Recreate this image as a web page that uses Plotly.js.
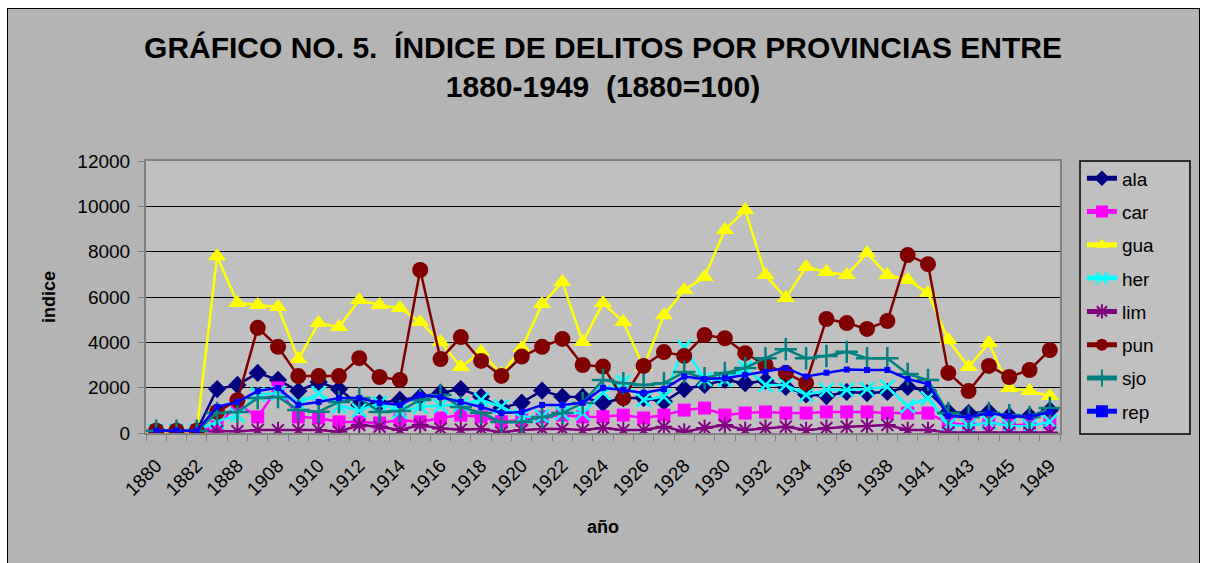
<!DOCTYPE html>
<html>
<head>
<meta charset="utf-8">
<script src="https://cdn.plot.ly/plotly-3.0.1.min.js"></script>
<style>
  html, body { margin: 0; padding: 0; background: #ffffff; overflow: hidden; }
  #frame { position: absolute; left: 7px; top: 8px; width: 1191px; height: 600px; background: #b4b4b4; border: 1px solid #000; }
  #chart { position: absolute; left: 0; top: 0; width: 1206px; height: 563px; }
</style>
</head>
<body>
<div id="frame"></div>
<div id="chart"></div>
<script>
const categories = ['1880','1881','1882','1885','1888','1889','1908','1909','1910','1911','1912','1913','1914','1915','1916','1917','1918','1919','1920','1921','1922','1923','1924','1925','1926','1927','1928','1929','1930','1931','1932','1933','1934','1935','1936','1937','1938','1940','1941','1942','1943','1944','1945','1947','1949'];
const tickLabels = categories.map((c, i) => (i % 2 === 0 ? c : ''));

const ala = [100,100,100,1940,2120,2650,2340,1850,2250,1940, 1240,1320,1460,1590,1770,1940,1600,1100,1340,1870, 1600,1590,1320,1540,1540,1380,1940,2120,2340,2200, 2300,2030,1700,1630,1810,1760,1810,2030,1850,930, 880,930,750,750,1000];
const car = [100,100,100,270,1300,710,1990,710,660,490, 490,440,570,490,660,790,710,490,570,710, 790,710,720,790,660,790,1010,1100,790,880, 930,880,880,930,930,930,880,880,880,440, 350,440,350,350,440];
const gua = [100,100,100,7800,5730,5650,5560,3260,4850,4680, 5870,5650,5510,4900,4020,2910,3570,2600,3750,5690, 6660,4020,5730,4900,2910,5200,6310,6880,8960,9840, 6970,5960,7320,7100,6970,7940,6970,6750,6180,4100, 2910,3970,1985,1850,1630];
const her = [100,100,100,500,790,1700,1750,1300,1750,1200, 1000,1320,940,1160,1190,1250,1460,1160,720,720, 880,880,1780,2250,1460,1600,3800,2380,2340,2870, 2120,2120,1680,1900,1900,1940,2030,1190,1540,350, 300,480,300,300,500];
const lim = [100,100,100,80,80,130,130,130,130,60, 350,280,130,350,200,150,180,30,130,180, 180,130,220,130,130,280,60,220,350,130, 220,280,130,220,280,310,350,130,130,20, 20,20,20,20,20];
const pun = [100,100,100,930,1450,4640,3800,2510,2510,2510, 3300,2470,2340,7190,3260,4230,3180,2520,3370,3800, 4150,3000,2930,1540,2960,3570,3400,4320,4180,3520, 3000,2650,2200,5030,4850,4590,4940,7850,7450,2650, 1850,2960,2470,2780,3660];
const sjo = [100,100,100,880,930,1540,1590,1010,940,1370, 1540,930,970,1460,1680,1150,880,490,490,710, 880,1320,2340,2200,2120,2200,2690,2420,2650,2870, 3300,3700,3300,3400,3580,3300,3300,2600,2340,880, 710,880,790,710,1100];
const rep = [100,100,100,1150,1370,1850,1990,1240,1370,1540, 1540,1330,1240,1680,1590,1370,1150,880,930,1240, 1240,1330,1990,1900,1770,1940,2490,2380,2420,2560, 2700,2870,2490,2660,2800,2780,2780,2380,2160,750, 710,880,750,710,930];

const seriesNames = ['ala','car','gua','her','lim','pun','sjo','rep'];
const seriesValues = [ala, car, gua, her, lim, pun, sjo, rep];
const styles = {
  ala: {color:'#000080', symbol:'diamond', size:14},
  car: {color:'#FF00FF', symbol:'square', size:13},
  gua: {color:'#FFFF00', symbol:'triangle-up', size:16},
  her: {color:'#00FFFF', symbol:'x-thin-open', size:14, lw:2.5},
  lim: {color:'#800080', symbol:'asterisk-open', size:14, lw:2},
  pun: {color:'#800000', symbol:'circle', size:16},
  sjo: {color:'#008080', symbol:'cross-thin-open', size:16, lw:2.5},
  rep: {color:'#0000FF', symbol:'square', size:6}
};

const traces = seriesNames.map((n, k) => {
  const s = styles[n];
  const marker = {symbol: s.symbol, size: s.size, color: s.color};
  if (s.lw) marker.line = {color: s.color, width: s.lw};
  else marker.line = {width: 0};
  return {
    type: 'scatter', mode: 'lines+markers', name: n, legendgroup: n,
    x: categories, y: seriesValues[k],
    line: {color: s.color, width: 2.5},
    marker: marker
  };
});

const font = 'Liberation Sans, Arial, sans-serif';
const layout = {
  width: 1206, height: 563,
  paper_bgcolor: 'rgba(0,0,0,0)',
  plot_bgcolor: '#c0c0c0',
  margin: {l: 146, r: 146, t: 161, b: 130, pad: 0},
  font: {family: font, color: '#000'},
  title: {
    text: '<b>GRÁFICO NO. 5.  ÍNDICE DE DELITOS POR PROVINCIAS ENTRE<br>1880-1949  (1880=100)</b>',
    font: {family: font, size: 30, color: '#000'},
    x: 0.5, xref: 'container', xanchor: 'center',
    y: 0.897, yref: 'container', yanchor: 'middle'
  },
  xaxis: {
    type: 'category', categoryorder: 'array', categoryarray: categories,
    range: [-0.5, 44.5],
    tickmode: 'array', tickvals: categories, ticktext: tickLabels,
    tickson: 'boundaries', ticks: 'outside', ticklen: 6, tickcolor: '#808080', tickwidth: 1,
    tickangle: -45, tickfont: {family: font, size: 19}, ticklabelstandoff: 12,
    showline: true, linecolor: '#808080', linewidth: 2, mirror: true,
    showgrid: false, zeroline: false,
    title: {text: '<b>año</b>', font: {family: font, size: 18}, standoff: 22}
  },
  yaxis: {
    range: [0, 12000], dtick: 2000, tick0: 0, tickformat: 'd',
    ticks: 'outside', ticklen: 6, tickcolor: '#808080',
    tickfont: {family: font, size: 19}, ticklabelstandoff: 4,
    showline: true, linecolor: '#808080', linewidth: 2, mirror: true,
    showgrid: true, gridcolor: '#000000', gridwidth: 1, zeroline: false,
    title: {text: '<b>indice</b>', font: {family: font, size: 18}, standoff: 17}
  },
  shapes: [{
    type: 'rect', xref: 'paper', yref: 'paper', layer: 'below',
    x0: 1.0219, x1: 1.1422, y0: -0.004, y1: 1.0,
    fillcolor: '#c0c0c0', line: {color: '#000', width: 1.5}
  }],
  showlegend: true,
  legend: {
    x: 1.024, xanchor: 'left', y: 1.006, yanchor: 'top',
    bgcolor: 'rgba(0,0,0,0)', borderwidth: 0,
    font: {family: font, size: 19}, tracegroupgap: 5.6,
    traceorder: 'grouped', itemsizing: 'constant'
  }
};

Plotly.newPlot('chart', traces, layout, {displayModeBar: false, staticPlot: true});
</script>
</body>
</html>
